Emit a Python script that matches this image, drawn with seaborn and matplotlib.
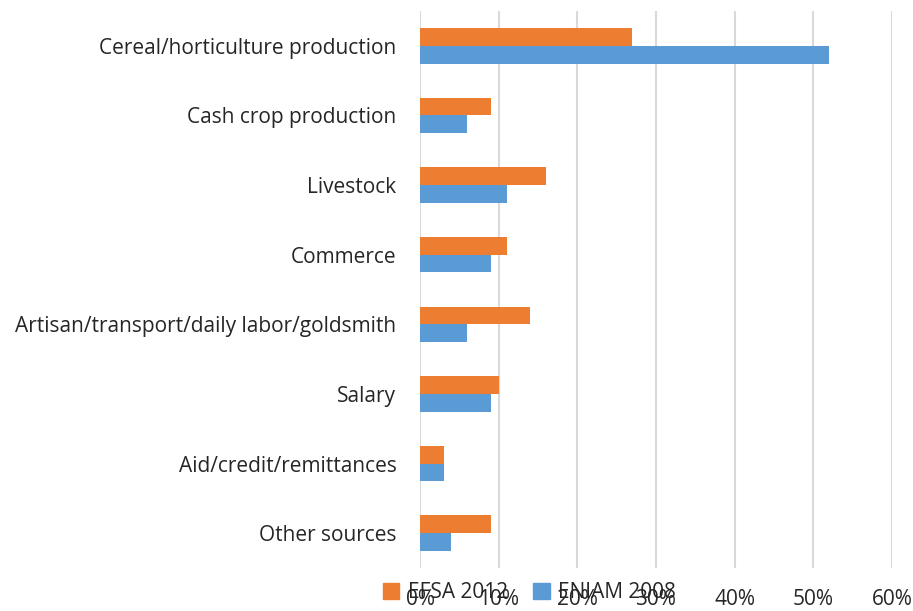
import pandas as pd
import seaborn as sns
import matplotlib.pyplot as plt
from matplotlib.ticker import PercentFormatter
from matplotlib.patches import Patch

# values (percent of households)
categories = ['Cereal/horticulture production', 'Cash crop production', 'Livestock',
              'Commerce', 'Artisan/transport/daily labor/goldsmith', 'Salary',
              'Aid/credit/remittances', 'Other sources']
efsa_2012 = [27, 9, 16, 11, 14, 10, 3, 9]
eniam_2008 = [52, 6, 11, 9, 6, 9, 3, 4]
series = ['EFSA 2012', 'ENIAM 2008']
colors = ['#ED7D31', '#5B9BD5']

df = pd.DataFrame({
    'Source': categories * 2,
    'Share': efsa_2012 + eniam_2008,
    'Survey': [series[0]] * len(categories) + [series[1]] * len(categories),
})

sns.set_style('white')
plt.rcParams['font.family'] = ['Open Sans', 'DejaVu Sans']

fig = plt.figure(figsize=(9.13, 6.11), dpi=100)
ax = fig.add_axes([420 / 913, 1 - 568 / 611, (892 - 420) / 913, (568 - 11) / 611])

sns.barplot(data=df, x='Share', y='Source', hue='Survey', hue_order=series,
            palette=colors, width=0.51, gap=0, orient='h', ax=ax, legend=False,
            edgecolor='none', saturation=1)

ax.set_xlim(0, 60)
ax.set_xticks(range(0, 61, 10))
ax.xaxis.set_major_formatter(PercentFormatter(decimals=0))
ax.grid(axis='x', color='#d9d9d9', lw=1.5)
ax.set_axisbelow(True)
for s in ax.spines.values():
    s.set_visible(False)
ax.set_xlabel('')
ax.set_ylabel('')
ax.tick_params(axis='x', length=0, pad=15, labelsize=15, colors='#262626')
ax.tick_params(axis='y', length=0, pad=17, labelsize=15, colors='#262626')

handles = [Patch(color=c, label=l) for c, l in zip(colors, series)]
fig.legend(handles=handles, loc='center left', ncol=2, frameon=False,
           bbox_to_anchor=(364 / 913, 1 - 593 / 611), fontsize=15,
           handlelength=0.8, handleheight=0.8, handletextpad=0.4, columnspacing=1.2,
           labelcolor='#262626')

fig.savefig('out.png', dpi=100)
